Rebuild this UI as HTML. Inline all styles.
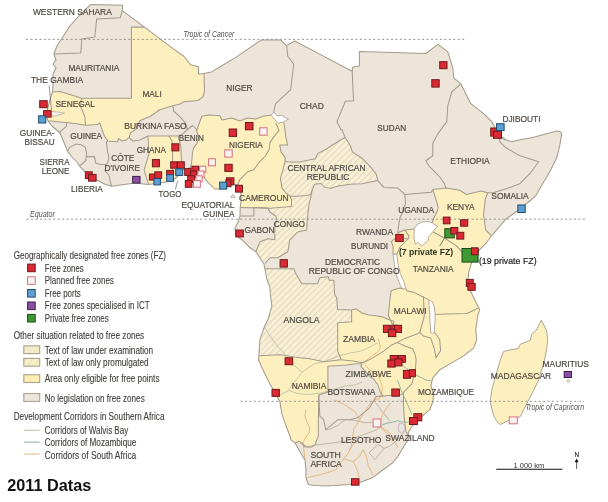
<!DOCTYPE html><html><head><meta charset="utf-8"><title>Free zones in Africa 2011</title><style>html,body{margin:0;padding:0;background:#fff;overflow:hidden}svg{display:block}text{font-family:"Liberation Sans",Arial,sans-serif}</style></head><body>
<svg width="608" height="502" viewBox="0 0 608 502">
<defs>
<clipPath id="land"><polygon points="90.8,4.4 122.7,5.3 122.3,10.7 144.5,27.1 160.3,39.1 173.4,48.9 183.9,56.2 190.5,64.7 198.4,66.7 198.4,73.9 204.0,73.6 211.4,71.9 219.7,67.0 236.1,57.1 249.3,48.1 261.6,39.9 280.5,39.9 286.3,45.6 294.7,41.0 319.6,54.1 352.2,71.2 352.8,66.9 359.4,65.9 359.4,51.5 425.9,53.5 437.9,44.3 447.8,51.9 452.8,67.8 453.8,77.8 460.8,83.8 470.8,103.7 483.7,113.7 492.0,121.9 498.9,134.9 505.9,139.8 511.9,141.8 519.9,139.8 531.8,137.8 545.8,133.9 556.7,130.9 560.7,131.9 561.7,133.9 559.7,145.8 556.7,157.8 549.8,171.7 543.8,181.7 535.8,195.6 531.0,200.0 518.5,210.0 506.0,219.0 500.0,225.8 491.6,235.8 485.6,243.7 477.7,251.7 471.7,255.7 471.8,262.0 468.8,271.9 467.8,281.9 470.8,291.8 475.7,301.8 479.7,309.8 477.7,315.7 475.7,329.7 476.7,340.0 473.7,347.9 463.7,355.9 449.8,363.9 439.8,369.8 432.8,377.8 430.8,385.8 433.8,393.7 432.8,401.7 429.8,409.7 422.6,415.9 411.8,426.6 408.2,432.6 409.7,437.9 405.8,443.2 401.8,449.7 397.9,456.3 392.6,462.9 383.4,469.5 372.9,477.4 359.7,482.6 349.3,484.4 335.0,485.5 324.7,486.0 313.0,485.3 308.2,484.4 306.0,478.0 305.9,469.7 305.0,460.0 300.0,451.8 295.0,442.9 291.0,439.9 289.9,435.7 285.9,425.7 281.9,413.8 279.9,401.8 275.9,393.9 269.9,383.9 264.0,372.0 258.5,360.0 258.9,355.7 259.9,339.8 263.9,327.8 267.9,319.8 271.9,305.9 270.5,296.0 269.9,287.0 266.5,278.0 264.9,268.7 263.9,263.7 260.9,259.8 259.9,257.8 255.9,251.8 250.0,247.8 242.0,239.8 236.0,235.9 235.0,227.9 238.0,222.0 240.0,216.0 240.2,207.0 241.2,200.5 241.0,194.0 239.5,188.0 237.8,184.5 232.0,185.0 226.0,187.0 219.4,189.0 214.7,189.0 206.3,180.6 200.0,170.5 190.0,167.7 182.0,170.0 178.0,176.0 172.0,181.0 160.0,183.0 148.0,184.5 135.0,182.9 111.6,186.2 105.0,184.2 97.1,180.3 89.2,176.3 79.3,165.8 77.8,163.0 72.0,157.0 67.5,151.3 63.0,140.0 59.9,133.0 52.0,126.0 47.9,120.8 45.9,113.9 47.9,107.9 49.9,99.9 52.5,92.0 53.0,84.0 53.0,74.0 56.0,68.0 53.0,64.0 56.0,60.0 53.9,54.0 56.9,46.0 62.8,37.0 69.8,26.0 79.8,15.0"/></clipPath>
<pattern id="hatch" patternUnits="userSpaceOnUse" width="4.4" height="4.4" patternTransform="rotate(-45)"><rect width="4.4" height="4.4" fill="#fcf2d2"/><rect width="4.4" height="1.9" fill="#e8e0cd"/></pattern>
<pattern id="lh1" patternUnits="userSpaceOnUse" width="5" height="5" patternTransform="rotate(-50)"><rect width="5" height="5" fill="#f1e8cf"/><rect width="5" height="2" fill="#f8efbf"/></pattern>
<pattern id="lh2" patternUnits="userSpaceOnUse" width="5" height="5" patternTransform="rotate(-50)"><rect width="5" height="5" fill="#f8f2c6"/><rect width="5" height="2" fill="#ede9bd"/></pattern>
</defs>
<polygon points="90.8,4.4 122.7,5.3 122.3,10.7 144.5,27.1 160.3,39.1 173.4,48.9 183.9,56.2 190.5,64.7 198.4,66.7 198.4,73.9 204.0,73.6 211.4,71.9 219.7,67.0 236.1,57.1 249.3,48.1 261.6,39.9 280.5,39.9 286.3,45.6 294.7,41.0 319.6,54.1 352.2,71.2 352.8,66.9 359.4,65.9 359.4,51.5 425.9,53.5 437.9,44.3 447.8,51.9 452.8,67.8 453.8,77.8 460.8,83.8 470.8,103.7 483.7,113.7 492.0,121.9 498.9,134.9 505.9,139.8 511.9,141.8 519.9,139.8 531.8,137.8 545.8,133.9 556.7,130.9 560.7,131.9 561.7,133.9 559.7,145.8 556.7,157.8 549.8,171.7 543.8,181.7 535.8,195.6 531.0,200.0 518.5,210.0 506.0,219.0 500.0,225.8 491.6,235.8 485.6,243.7 477.7,251.7 471.7,255.7 471.8,262.0 468.8,271.9 467.8,281.9 470.8,291.8 475.7,301.8 479.7,309.8 477.7,315.7 475.7,329.7 476.7,340.0 473.7,347.9 463.7,355.9 449.8,363.9 439.8,369.8 432.8,377.8 430.8,385.8 433.8,393.7 432.8,401.7 429.8,409.7 422.6,415.9 411.8,426.6 408.2,432.6 409.7,437.9 405.8,443.2 401.8,449.7 397.9,456.3 392.6,462.9 383.4,469.5 372.9,477.4 359.7,482.6 349.3,484.4 335.0,485.5 324.7,486.0 313.0,485.3 308.2,484.4 306.0,478.0 305.9,469.7 305.0,460.0 300.0,451.8 295.0,442.9 291.0,439.9 289.9,435.7 285.9,425.7 281.9,413.8 279.9,401.8 275.9,393.9 269.9,383.9 264.0,372.0 258.5,360.0 258.9,355.7 259.9,339.8 263.9,327.8 267.9,319.8 271.9,305.9 270.5,296.0 269.9,287.0 266.5,278.0 264.9,268.7 263.9,263.7 260.9,259.8 259.9,257.8 255.9,251.8 250.0,247.8 242.0,239.8 236.0,235.9 235.0,227.9 238.0,222.0 240.0,216.0 240.2,207.0 241.2,200.5 241.0,194.0 239.5,188.0 237.8,184.5 232.0,185.0 226.0,187.0 219.4,189.0 214.7,189.0 206.3,180.6 200.0,170.5 190.0,167.7 182.0,170.0 178.0,176.0 172.0,181.0 160.0,183.0 148.0,184.5 135.0,182.9 111.6,186.2 105.0,184.2 97.1,180.3 89.2,176.3 79.3,165.8 77.8,163.0 72.0,157.0 67.5,151.3 63.0,140.0 59.9,133.0 52.0,126.0 47.9,120.8 45.9,113.9 47.9,107.9 49.9,99.9 52.5,92.0 53.0,84.0 53.0,74.0 56.0,68.0 53.0,64.0 56.0,60.0 53.9,54.0 56.9,46.0 62.8,37.0 69.8,26.0 79.8,15.0" fill="#ede5d9"/>
<g clip-path="url(#land)">
<polygon points="131.4,27.1 144.5,27.1 150.0,24.0 215.0,62.0 204.0,74.0 204.5,90.0 203.2,96.6 197.9,100.5 183.4,101.8 180.8,103.8 172.9,105.8 159.7,109.7 150.5,116.3 140.0,120.5 135.7,129.4 130.7,132.7 129.1,137.6 125.8,140.1 121.7,140.9 118.4,138.5 117.6,141.7 107.7,140.9 104.4,136.0 101.9,129.4 99.5,122.8 97.8,124.5 85.5,125.3 76.4,123.7 68.2,122.8 60.0,122.0 47.9,120.8 30.0,120.0 30.0,91.0 52.5,91.8 60.0,91.6 76.4,96.5 81.4,98.2 131.4,98.2" fill="#fef0be"/>
<polygon points="147.9,136.0 169.0,136.0 178.2,136.0 180.8,146.4 181.4,161.8 181.0,176.0 181.0,195.0 149.0,195.0 148.9,185.4 145.9,175.9 144.1,169.9 148.9,154.3" fill="#fef0be"/>
<polygon points="196.6,130.8 201.8,116.3 208.4,115.0 220.0,115.7 221.9,119.9 231.8,117.9 239.8,120.9 247.8,117.9 255.7,118.9 263.7,115.9 271.2,115.3 274.5,119.2 278.4,123.2 283.7,122.5 285.0,129.7 285.7,136.3 287.6,144.9 279.7,144.9 281.1,152.1 285.0,157.4 285.1,161.2 282.7,170.7 280.4,178.7 282.0,188.2 285.9,193.0 289.9,196.2 291.5,199.4 291.5,206.6 270.0,208.2 240.0,207.5 230.0,207.0 225.0,195.0 185.0,195.0 190.0,167.7 191.4,164.3 192.0,158.8 192.5,152.3 193.6,147.9 196.9,143.5 198.6,138.6 198.0,134.7" fill="#fef0be"/>
<polygon points="432.7,189.5 440.0,188.7 446.0,188.1 459.7,190.3 466.3,194.4 481.1,191.1 487.7,192.8 485.2,199.3 483.6,215.0 485.6,229.8 491.6,235.8 510.0,245.0 500.0,330.0 490.0,360.0 445.0,380.0 440.0,400.0 435.0,415.0 420.0,425.0 411.8,426.6 408.0,432.0 405.9,431.4 404.7,421.8 404.1,415.9 403.5,403.9 403.5,393.1 398.7,395.5 387.9,395.5 376.0,396.7 383.2,400.0 380.5,392.6 377.9,384.7 374.0,379.5 368.7,375.5 364.7,370.3 360.8,366.3 362.1,363.7 356.8,363.7 346.3,365.0 327.9,366.3 327.9,391.9 318.8,394.9 318.4,420.0 318.3,436.0 316.9,439.9 314.9,444.9 311.9,446.9 304.9,446.9 301.9,442.9 298.9,441.4 295.0,442.9 280.0,445.0 250.0,360.0 259.0,355.7 279.9,354.7 299.8,357.7 309.8,358.7 323.7,361.7 341.0,359.7 339.7,355.8 337.7,351.8 337.7,322.8 351.6,321.8 351.6,309.9 356.2,308.8 361.8,313.0 368.8,315.0 375.7,315.7 382.7,317.1 389.7,319.9 393.9,321.3 393.2,325.5 388.3,315.7 389.7,301.8 391.1,290.7 395.3,289.3 400.0,287.9 402.7,289.0 400.3,285.4 396.7,275.8 394.3,263.9 393.1,254.3 392.0,246.0 391.4,241.9 393.0,236.0 397.9,232.7 404.8,229.9 414.1,228.9 417.5,224.1 422.4,222.0 428.0,221.6 432.2,222.7 434.1,217.4 436.9,211.8 438.3,207.6 435.5,197.9" fill="#fef0be"/>
<polygon points="285.1,161.2 288.9,162.0 299.5,162.0 315.3,158.7 317.9,153.4 325.8,149.5 331.7,145.5 340.0,140.3 345.1,137.5 350.7,146.3 352.3,151.9 361.9,158.2 369.8,166.2 376.2,174.2 377.8,180.6 361.9,183.7 350.0,184.3 338.5,185.9 330.6,188.2 325.0,187.5 321.0,183.5 314.6,184.3 312.2,189.8 310.6,194.6 306.7,195.4 297.1,196.2 289.9,196.2 285.9,193.0 282.0,188.2 280.4,178.7 282.7,170.7" fill="url(#hatch)"/>
<polygon points="291.5,206.6 291.5,199.4 289.9,196.2 297.1,196.2 306.7,195.4 310.6,194.6 312.2,189.8 310.6,197.8 309.0,204.2 308.2,210.6 307.4,218.5 306.7,230.0 297.8,231.9 289.8,239.8 287.8,251.8 277.8,257.8 269.9,257.8 262.0,262.0 250.0,250.0 255.9,251.8 259.9,241.8 267.9,238.8 274.8,239.8 274.8,225.9 276.8,219.9 275.8,216.0 269.9,212.0 267.9,208.0" fill="url(#hatch)"/>
<polygon points="264.9,268.7 293.8,268.7 295.8,273.7 301.8,283.7 317.7,283.7 319.7,277.7 327.7,276.7 328.4,276.7 329.1,280.2 333.9,280.2 334.6,294.8 336.7,297.6 337.4,307.4 337.4,309.5 351.6,309.9 351.6,321.8 337.7,322.8 337.7,351.8 339.7,355.8 341.0,359.7 323.7,361.7 309.8,358.7 299.8,357.7 279.9,354.7 259.0,355.7 240.0,356.0 240.0,268.0" fill="url(#hatch)"/>
<polyline points="330.0,429.2 337.9,425.3 345.8,419.3 356.3,420.7 364.2,422.6 372.1,422.6" fill="none" stroke="#b3aa98" stroke-width="0.8" stroke-linejoin="round"/>
<polyline points="325.6,430.0 330.0,429.2" fill="none" stroke="#b3aa98" stroke-width="0.8" stroke-linejoin="round"/>
<polyline points="300.0,443.3 308.2,446.6 316.4,444.9 329.6,443.3 342.8,441.6" fill="none" stroke="#b3aa98" stroke-width="0.8" stroke-linejoin="round"/>
<polyline points="342.8,441.6 352.0,439.0 360.0,436.0 368.0,433.0 376.0,430.0 382.0,426.0" fill="none" stroke="#b3aa98" stroke-width="0.8" stroke-linejoin="round"/>
<polyline points="384.1,448.4 390.0,446.0 396.0,441.0 401.0,436.0 404.0,432.0" fill="none" stroke="#b3aa98" stroke-width="0.8" stroke-linejoin="round"/>
<polyline points="375.7,402.6 381.0,410.0 386.0,416.0 390.0,421.0" fill="none" stroke="#b3aa98" stroke-width="0.8" stroke-linejoin="round"/>
<polyline points="369.1,452.7 378.2,444.5 384.1,448.4 374.9,459.6 369.1,452.7" fill="none" stroke="#b3aa98" stroke-width="0.8" stroke-linejoin="round"/>
<polyline points="264.0,326.5 270.0,336.0 277.3,346.0 284.0,353.0 288.6,361.1 295.0,366.0 301.8,372.3 299.0,376.5 292.0,384.8 288.6,390.4 280.9,394.6 276.7,393.2" fill="none" stroke="#b8bba2" stroke-width="0.8" stroke-linejoin="round"/>
<polyline points="301.8,372.3 308.0,368.0 314.4,363.9 325.5,361.1 340.0,355.6 350.0,353.0 360.5,351.3 370.0,347.0 377.6,342.8" fill="none" stroke="#b8bba2" stroke-width="0.8" stroke-linejoin="round"/>
<polyline points="288.6,390.4 296.2,393.2 307.4,394.6 319.9,393.2 326.0,391.5 335.0,389.0 345.0,386.0 355.0,385.0 362.0,382.0" fill="none" stroke="#b8bba2" stroke-width="0.8" stroke-linejoin="round"/>
<polyline points="378.4,338.4 380.5,348.1 377.0,352.3 372.9,355.1 365.9,360.7 361.7,363.4" fill="none" stroke="#e3b27a" stroke-width="0.9" stroke-linejoin="round"/>
<polyline points="365.0,365.0 368.7,369.0 374.0,373.0 378.4,376.0 381.0,382.0 382.5,388.0 381.0,395.0 379.5,398.8 373.4,400.3 369.0,405.0 365.5,410.8 362.0,416.0 358.9,421.3 353.7,429.2 352.4,438.4 351.8,443.2 351.1,447.6 347.9,453.7 343.9,458.9 340.0,464.2 336.2,469.6 321.4,474.5 306.6,477.8" fill="none" stroke="#e3b27a" stroke-width="0.9" stroke-linejoin="round"/>
<polyline points="305.9,410.0 304.9,416.0 306.9,422.0 309.9,427.9 308.9,432.9 304.9,438.9 302.9,442.9 303.9,449.8 304.9,460.0" fill="none" stroke="#e3b27a" stroke-width="0.9" stroke-linejoin="round"/>
<polyline points="390.5,402.9 386.0,409.0 382.6,414.7 378.7,425.3 385.3,431.8 391.8,438.4 395.0,443.0 398.4,447.6" fill="none" stroke="#e3b27a" stroke-width="0.9" stroke-linejoin="round"/>
<polyline points="380.0,426.6 386.6,430.5 391.0,434.0" fill="none" stroke="#e3b27a" stroke-width="0.9" stroke-linejoin="round"/>
<polyline points="343.9,458.9 353.2,461.6 357.1,469.5 359.1,477.4" fill="none" stroke="#e3b27a" stroke-width="0.9" stroke-linejoin="round"/>
<polyline points="353.2,461.6 359.7,456.3 363.0,449.7 366.3,456.3 368.3,465.5 372.9,474.7" fill="none" stroke="#e3b27a" stroke-width="0.9" stroke-linejoin="round"/>
<polyline points="349.3,449.9 354.3,443.3" fill="none" stroke="#e3b27a" stroke-width="0.9" stroke-linejoin="round"/>
<polyline points="335.0,400.0 345.0,405.0 355.0,412.0 360.0,420.0" fill="none" stroke="#e3b27a" stroke-width="0.9" stroke-linejoin="round"/>
<polyline points="122.3,10.7 120.3,17.7 96.7,19.0 94.8,37.0 81.8,39.0 80.8,53.0 53.9,54.0" fill="none" stroke="#a39c8c" stroke-width="1.05" stroke-linejoin="round"/>
<polyline points="144.5,27.1 131.4,27.1 131.4,98.2 81.4,98.2 76.4,96.5 60.0,91.6 52.5,92.0" fill="none" stroke="#a39c8c" stroke-width="1.05" stroke-linejoin="round"/>
<polyline points="81.4,98.2 80.6,106.4 84.7,116.3 85.5,125.3" fill="none" stroke="#a39c8c" stroke-width="1.05" stroke-linejoin="round"/>
<polyline points="47.9,120.8 60.0,122.0 68.2,122.8 76.4,123.7 85.5,125.3 97.8,124.5 99.5,122.8" fill="none" stroke="#a39c8c" stroke-width="1.05" stroke-linejoin="round"/>
<polyline points="66.8,123.0 66.2,126.3 60.3,131.6 59.9,133.0" fill="none" stroke="#a39c8c" stroke-width="1.05" stroke-linejoin="round"/>
<polyline points="99.5,122.8 101.9,129.4 104.4,136.0 107.7,140.9 117.6,141.7 118.4,138.5 121.7,140.9 125.8,140.1 129.1,137.6 130.7,132.7 135.7,129.4 140.0,120.5 150.5,116.3 159.7,109.7 172.9,105.8 180.8,103.8 183.4,101.8 197.9,100.5 203.2,96.6 204.5,90.0 204.0,74.0" fill="none" stroke="#a39c8c" stroke-width="1.05" stroke-linejoin="round"/>
<polyline points="107.7,140.9 106.3,142.1 107.6,151.3 108.9,157.9 107.6,163.2 106.3,164.5 105.0,171.0 108.9,175.0 110.3,181.6 111.6,186.2" fill="none" stroke="#a39c8c" stroke-width="1.05" stroke-linejoin="round"/>
<polyline points="86.6,156.6 94.5,156.6 95.8,163.2 101.1,164.5 106.3,164.5" fill="none" stroke="#a39c8c" stroke-width="1.05" stroke-linejoin="round"/>
<polyline points="67.5,151.3 69.5,147.4 76.1,144.1 81.3,144.7 85.3,147.4 86.6,153.9 85.9,160.5 81.3,164.5 79.3,165.8" fill="none" stroke="#a39c8c" stroke-width="1.05" stroke-linejoin="round"/>
<polyline points="129.1,137.6 133.0,141.0 140.0,140.0 147.9,136.0 169.0,136.0 178.2,136.0 179.5,135.4 183.4,133.4 187.4,129.5 185.4,122.9 179.5,116.3 173.6,111.0 172.9,105.8" fill="none" stroke="#a39c8c" stroke-width="1.05" stroke-linejoin="round"/>
<polyline points="147.9,136.0 148.9,154.3 144.1,169.9 145.9,175.9 148.9,185.4" fill="none" stroke="#a39c8c" stroke-width="1.05" stroke-linejoin="round"/>
<polyline points="168.8,136.0 172.0,141.0 172.5,150.0 172.6,162.0 172.5,182.0" fill="none" stroke="#a39c8c" stroke-width="1.05" stroke-linejoin="round"/>
<polyline points="178.2,136.0 180.8,146.4 181.4,161.8 181.0,176.0" fill="none" stroke="#a39c8c" stroke-width="1.05" stroke-linejoin="round"/>
<polyline points="187.4,129.5 192.6,125.5 196.6,129.5 196.6,130.8 198.0,134.7 198.6,138.6 196.9,143.5 193.6,147.9 192.5,152.3 192.0,158.8 191.4,164.3 190.0,167.7" fill="none" stroke="#a39c8c" stroke-width="1.05" stroke-linejoin="round"/>
<polyline points="196.6,130.8 201.8,116.3 208.4,115.0 220.0,115.7 221.9,119.9 231.8,117.9 239.8,120.9 247.8,117.9 255.7,118.9 263.7,115.9 271.2,115.3" fill="none" stroke="#a39c8c" stroke-width="1.05" stroke-linejoin="round"/>
<polyline points="286.7,46.0 287.7,56.0 293.7,64.0 290.7,89.7 275.7,103.7 273.7,111.6 273.8,112.0" fill="none" stroke="#a39c8c" stroke-width="1.05" stroke-linejoin="round"/>
<polyline points="275.8,123.2 279.1,130.4 273.2,137.6 269.9,142.9 269.2,149.5 265.3,156.0 260.0,161.3 253.7,169.7 247.8,171.7 239.8,179.7 237.8,184.5" fill="none" stroke="#a39c8c" stroke-width="1.05" stroke-linejoin="round"/>
<polyline points="283.7,122.5 285.0,129.7 285.7,136.3 287.6,144.9 279.7,144.9 281.1,152.1 285.0,157.4 285.1,161.2 282.7,170.7 280.4,178.7 282.0,188.2 285.9,193.0 289.9,196.2 291.5,199.4 291.5,206.6" fill="none" stroke="#a39c8c" stroke-width="1.05" stroke-linejoin="round"/>
<polyline points="291.5,206.6 270.0,208.2 240.0,207.5" fill="none" stroke="#a39c8c" stroke-width="1.05" stroke-linejoin="round"/>
<polyline points="285.1,161.2 288.9,162.0 299.5,162.0 315.3,158.7 317.9,153.4 325.8,149.5 331.7,145.5 340.0,140.3 345.1,137.5" fill="none" stroke="#a39c8c" stroke-width="1.05" stroke-linejoin="round"/>
<polyline points="352.2,71.2 353.5,100.8 345.3,101.2 341.9,109.7 336.9,121.6 340.9,129.6 342.0,129.6 345.1,137.5" fill="none" stroke="#a39c8c" stroke-width="1.05" stroke-linejoin="round"/>
<polyline points="345.1,137.5 350.7,146.3 352.3,151.9 361.9,158.2 369.8,166.2 376.2,174.2 377.8,180.6" fill="none" stroke="#a39c8c" stroke-width="1.05" stroke-linejoin="round"/>
<polyline points="289.9,196.2 297.1,196.2 306.7,195.4 310.6,194.6 312.2,189.8 314.6,184.3 321.0,183.5 325.0,187.5 330.6,188.2 338.5,185.9 350.0,184.3 361.9,183.7 377.8,180.6" fill="none" stroke="#a39c8c" stroke-width="1.05" stroke-linejoin="round"/>
<polyline points="377.8,180.6 383.9,187.4 397.9,188.1 404.8,194.4 431.3,192.3 432.7,189.5" fill="none" stroke="#a39c8c" stroke-width="1.05" stroke-linejoin="round"/>
<polyline points="460.8,83.8 451.8,91.8 447.8,105.7 446.8,121.6 437.8,133.9 432.8,142.9 432.8,155.8 425.8,160.8 428.8,165.8 434.8,171.8 439.7,177.0 443.9,182.5 446.0,188.1" fill="none" stroke="#a39c8c" stroke-width="1.05" stroke-linejoin="round"/>
<polyline points="498.9,134.9 499.9,141.8 505.9,147.8 519.9,155.8 538.8,161.8 529.8,173.7 519.9,183.7 509.9,187.6 494.0,192.6 487.7,192.8" fill="none" stroke="#a39c8c" stroke-width="1.05" stroke-linejoin="round"/>
<polyline points="432.7,189.5 440.0,188.7 446.0,188.1 459.7,190.3 466.3,194.4 481.1,191.1 487.7,192.8 485.2,199.3 483.6,215.0 485.6,229.8 491.6,235.8" fill="none" stroke="#a39c8c" stroke-width="1.05" stroke-linejoin="round"/>
<polyline points="404.8,194.4 405.5,203.4 402.8,211.8 400.0,217.4 398.6,225.7 397.9,232.7" fill="none" stroke="#a39c8c" stroke-width="1.05" stroke-linejoin="round"/>
<polyline points="432.7,189.5 435.5,197.9 438.3,207.6 436.9,211.8 434.1,217.4 432.2,222.7" fill="none" stroke="#a39c8c" stroke-width="1.05" stroke-linejoin="round"/>
<polyline points="397.9,232.7 404.8,229.9 414.1,228.9" fill="none" stroke="#a39c8c" stroke-width="1.05" stroke-linejoin="round"/>
<polyline points="432.9,231.7 445.0,238.5 456.5,245.9 461.7,251.7 471.7,255.7" fill="none" stroke="#a39c8c" stroke-width="1.05" stroke-linejoin="round"/>
<polyline points="397.9,232.7 398.0,237.0 408.0,239.0 409.0,236.0 404.8,229.9" fill="none" stroke="#a39c8c" stroke-width="1.05" stroke-linejoin="round"/>
<polyline points="398.0,237.0 393.0,240.0 391.4,241.9 393.0,246.0 393.1,254.3 396.7,254.3 400.0,247.0 402.9,244.0 408.0,239.0" fill="none" stroke="#a39c8c" stroke-width="1.05" stroke-linejoin="round"/>
<polyline points="240.0,216.0 253.9,216.0 253.9,207.5" fill="none" stroke="#a39c8c" stroke-width="1.05" stroke-linejoin="round"/>
<polyline points="253.9,207.5 267.9,208.0 269.9,212.0 275.8,216.0 276.8,219.9 274.8,225.9 274.8,239.8 267.9,238.8 259.9,241.8 255.9,251.8" fill="none" stroke="#a39c8c" stroke-width="1.05" stroke-linejoin="round"/>
<polyline points="312.2,189.8 310.6,197.8 309.0,204.2 308.2,210.6 307.4,218.5 306.7,230.0 297.8,231.9 289.8,239.8 287.8,251.8 277.8,257.8 269.9,257.8 265.0,263.5" fill="none" stroke="#a39c8c" stroke-width="1.05" stroke-linejoin="round"/>
<polyline points="264.9,268.7 293.8,268.7 295.8,273.7 301.8,283.7 317.7,283.7 319.7,277.7 327.7,276.7 328.4,276.7 329.1,280.2 333.9,280.2 334.6,294.8 336.7,297.6 337.4,307.4 337.4,309.5 351.6,309.9" fill="none" stroke="#a39c8c" stroke-width="1.05" stroke-linejoin="round"/>
<polyline points="351.6,309.9 351.6,321.8 337.7,322.8 337.7,351.8 339.7,355.8 341.0,359.7 323.7,361.7 309.8,358.7 299.8,357.7 279.9,354.7 258.9,355.7" fill="none" stroke="#a39c8c" stroke-width="1.05" stroke-linejoin="round"/>
<polyline points="351.6,309.9 356.2,308.8 361.8,313.0 368.8,315.0 375.7,315.7 382.7,317.1 389.7,319.9 393.9,321.3 393.2,325.5 388.3,315.7 389.7,301.8 391.1,290.7 395.3,289.3 400.0,287.9 402.7,289.0" fill="none" stroke="#a39c8c" stroke-width="1.05" stroke-linejoin="round"/>
<polyline points="405.7,288.4 407.1,290.9 414.6,292.6 421.6,296.3 428.9,299.9" fill="none" stroke="#a39c8c" stroke-width="1.05" stroke-linejoin="round"/>
<polyline points="435.2,314.4 445.0,314.0 466.8,313.5 478.6,308.0" fill="none" stroke="#a39c8c" stroke-width="1.05" stroke-linejoin="round"/>
<polyline points="423.4,296.3 424.3,316.2 419.8,332.5 418.0,333.4 405.0,338.4 397.2,342.4" fill="none" stroke="#a39c8c" stroke-width="1.05" stroke-linejoin="round"/>
<polyline points="419.8,332.5 423.4,336.1 430.7,337.9 434.3,348.8 436.1,357.8 440.6,350.6 439.7,339.7 436.1,334.3 434.3,332.5" fill="none" stroke="#a39c8c" stroke-width="1.05" stroke-linejoin="round"/>
<polyline points="341.0,359.7 352.9,361.0 363.1,362.8 372.9,357.9 384.0,350.9 391.0,345.3 397.2,342.4" fill="none" stroke="#a39c8c" stroke-width="1.05" stroke-linejoin="round"/>
<polyline points="397.2,342.4 405.0,346.0 412.6,348.8 415.0,354.0 416.2,359.6 415.3,370.0 413.9,375.8 411.9,383.8 403.9,391.8 403.5,393.1" fill="none" stroke="#a39c8c" stroke-width="1.05" stroke-linejoin="round"/>
<polyline points="327.9,366.3 346.3,365.0 356.8,363.7 362.1,363.7" fill="none" stroke="#a39c8c" stroke-width="1.05" stroke-linejoin="round"/>
<polyline points="362.1,363.7 360.8,366.3 364.7,370.3 368.7,375.5 374.0,379.5 377.9,384.7 380.5,392.6 383.2,396.0" fill="none" stroke="#a39c8c" stroke-width="1.05" stroke-linejoin="round"/>
<polyline points="376.0,396.7 387.9,395.5 398.7,395.5 403.5,393.1" fill="none" stroke="#a39c8c" stroke-width="1.05" stroke-linejoin="round"/>
<polyline points="403.5,393.1 403.5,403.9 404.1,415.9 404.7,421.8 405.9,431.4 409.7,437.9" fill="none" stroke="#a39c8c" stroke-width="1.05" stroke-linejoin="round"/>
<polyline points="327.9,366.3 327.9,391.9 318.8,394.9 318.4,420.0 318.3,436.0 316.9,439.9 314.9,444.9 311.9,446.9 304.9,446.9 301.9,442.9 298.9,441.4 295.0,442.9" fill="none" stroke="#a39c8c" stroke-width="1.05" stroke-linejoin="round"/>
<polyline points="318.8,394.9 319.8,415.8 323.7,419.8 325.7,429.7 337.7,419.8 349.7,419.8 357.6,417.8 369.6,407.8 376.0,396.7 383.2,396.0" fill="none" stroke="#a39c8c" stroke-width="1.05" stroke-linejoin="round"/>
<polyline points="382.0,424.8 388.0,423.0 393.9,421.8 397.5,420.7 401.7,422.1 409.4,422.1" fill="none" stroke="#86b3a0" stroke-width="0.9" stroke-linejoin="round"/>
<polyline points="397.5,380.0 400.0,387.0 402.3,393.1 406.0,401.0 409.4,408.7 411.8,414.7" fill="none" stroke="#86b3a0" stroke-width="0.9" stroke-linejoin="round"/>
<polyline points="399.4,363.4 403.5,366.2 410.0,371.0 418.0,376.0 426.0,380.0 432.5,381.0" fill="none" stroke="#86b3a0" stroke-width="0.9" stroke-linejoin="round"/>
<polyline points="498.5,134.0 502.0,138.5 506.0,140.0" fill="none" stroke="#86b3a0" stroke-width="0.9" stroke-linejoin="round"/>
<polygon points="398.9,423.8 402.3,423.6 404.6,425.5 404.8,431 401.1,432.6 398.9,431.5 398.2,428" fill="#ece6e2" stroke="#c6aac6" stroke-width="0.8"/>
<polygon points="51,111.4 58,112 64.5,113.2 58,115.3 52,116.6" fill="#f6f1ea" stroke="#a39c8c" stroke-width="0.6"/>
</g>
<polygon points="90.8,4.4 122.7,5.3 122.3,10.7 144.5,27.1 160.3,39.1 173.4,48.9 183.9,56.2 190.5,64.7 198.4,66.7 198.4,73.9 204.0,73.6 211.4,71.9 219.7,67.0 236.1,57.1 249.3,48.1 261.6,39.9 280.5,39.9 286.3,45.6 294.7,41.0 319.6,54.1 352.2,71.2 352.8,66.9 359.4,65.9 359.4,51.5 425.9,53.5 437.9,44.3 447.8,51.9 452.8,67.8 453.8,77.8 460.8,83.8 470.8,103.7 483.7,113.7 492.0,121.9 498.9,134.9 505.9,139.8 511.9,141.8 519.9,139.8 531.8,137.8 545.8,133.9 556.7,130.9 560.7,131.9 561.7,133.9 559.7,145.8 556.7,157.8 549.8,171.7 543.8,181.7 535.8,195.6 531.0,200.0 518.5,210.0 506.0,219.0 500.0,225.8 491.6,235.8 485.6,243.7 477.7,251.7 471.7,255.7 471.8,262.0 468.8,271.9 467.8,281.9 470.8,291.8 475.7,301.8 479.7,309.8 477.7,315.7 475.7,329.7 476.7,340.0 473.7,347.9 463.7,355.9 449.8,363.9 439.8,369.8 432.8,377.8 430.8,385.8 433.8,393.7 432.8,401.7 429.8,409.7 422.6,415.9 411.8,426.6 408.2,432.6 409.7,437.9 405.8,443.2 401.8,449.7 397.9,456.3 392.6,462.9 383.4,469.5 372.9,477.4 359.7,482.6 349.3,484.4 335.0,485.5 324.7,486.0 313.0,485.3 308.2,484.4 306.0,478.0 305.9,469.7 305.0,460.0 300.0,451.8 295.0,442.9 291.0,439.9 289.9,435.7 285.9,425.7 281.9,413.8 279.9,401.8 275.9,393.9 269.9,383.9 264.0,372.0 258.5,360.0 258.9,355.7 259.9,339.8 263.9,327.8 267.9,319.8 271.9,305.9 270.5,296.0 269.9,287.0 266.5,278.0 264.9,268.7 263.9,263.7 260.9,259.8 259.9,257.8 255.9,251.8 250.0,247.8 242.0,239.8 236.0,235.9 235.0,227.9 238.0,222.0 240.0,216.0 240.2,207.0 241.2,200.5 241.0,194.0 239.5,188.0 237.8,184.5 232.0,185.0 226.0,187.0 219.4,189.0 214.7,189.0 206.3,180.6 200.0,170.5 190.0,167.7 182.0,170.0 178.0,176.0 172.0,181.0 160.0,183.0 148.0,184.5 135.0,182.9 111.6,186.2 105.0,184.2 97.1,180.3 89.2,176.3 79.3,165.8 77.8,163.0 72.0,157.0 67.5,151.3 63.0,140.0 59.9,133.0 52.0,126.0 47.9,120.8 45.9,113.9 47.9,107.9 49.9,99.9 52.5,92.0 53.0,84.0 53.0,74.0 56.0,68.0 53.0,64.0 56.0,60.0 53.9,54.0 56.9,46.0 62.8,37.0 69.8,26.0 79.8,15.0" fill="none" stroke="#a39c8c" stroke-width="1.05" stroke-linejoin="round"/>
<polygon points="271.2,115.3 273.8,112.0 277.1,115.9 281.7,115.3 288.3,119.2 283.7,121.8 278.4,123.2 274.5,119.2" fill="#fff" stroke="#a39c8c" stroke-width="0.8"/>
<polygon points="414.1,228.9 417.5,224.1 422.4,222.0 428.0,221.6 432.2,222.7 435.0,224.8 437.4,226.1 432.9,231.7 430.1,235.2 428.0,237.3 428.7,240.1 425.2,242.9 422.4,245.7 419.6,244.3 417.5,242.2 415.5,244.3 414.1,239.4" fill="#fff" stroke="#a39c8c" stroke-width="0.8"/>
<polygon points="393.1,254.3 396.7,254.3 397.9,263.9 400.3,273.5 403.9,281.8 405.7,288.4 402.7,289.0 400.3,285.4 396.7,275.8 394.3,263.9" fill="#fff" stroke="#a39c8c" stroke-width="0.8"/>
<polygon points="428.9,299.9 432.5,301.7 434.5,308.0 435.2,316.2 434.8,324.0 434.3,332.5 432.5,333.4 430.7,332.5 430.2,324.0 429.8,316.2 429.2,308.0" fill="#fff" stroke="#a39c8c" stroke-width="0.8"/>
<polygon points="541.2,320.1 546.5,330.2 547.7,340.2 546.5,350.0 544.5,360.3 541.5,370.0 538.4,380.4 533.5,390.5 528.4,400.5 524.0,409.0 520.3,416.6 514.0,418.6 508.3,420.6 500.2,424.6 496.5,421.0 494.2,416.6 491.5,408.0 490.2,400.5 492.2,388.5 496.2,374.4 500.2,360.3 503.4,351.5 510.0,350.0 518.3,348.3 520.3,344.2 530.4,340.2 531.6,334.2 536.4,330.2" fill="#fef0be" stroke="#a39c8c" stroke-width="0.9"/>
<polygon points="230.5,197.3 232.8,194.3 235.2,197.3" fill="#ede5d9" stroke="#a39c8c" stroke-width="0.7"/>
<circle cx="568.3" cy="381" r="1.3" fill="#fef0be" stroke="#a39c8c" stroke-width="0.6"/>
<line x1="49.1" y1="85.5" x2="51.5" y2="110" stroke="#6e6a66" stroke-width="0.7"/>
<line x1="177.6" y1="181" x2="175.4" y2="189.6" stroke="#6e6a66" stroke-width="0.7"/>
<line x1="444" y1="238.7" x2="439.8" y2="246" stroke="#556b4d" stroke-width="0.8"/>
<line x1="26" y1="39.4" x2="466" y2="39.4" stroke="#8c8c8c" stroke-width="0.9" stroke-dasharray="2.1 2.35" fill="none"/>
<line x1="26.5" y1="219.2" x2="587" y2="219.2" stroke="#8c8c8c" stroke-width="0.9" stroke-dasharray="2.1 2.35" fill="none"/>
<line x1="240.5" y1="401.3" x2="584" y2="401.3" stroke="#8c8c8c" stroke-width="0.9" stroke-dasharray="2.1 2.35" fill="none"/>
<rect x="39.7" y="100.7" width="7.5" height="7.0" fill="#dc2a35" stroke="#6e1a1c" stroke-width="1"/>
<rect x="43.6" y="110.6" width="7.5" height="6.5" fill="#dc2a35" stroke="#6e1a1c" stroke-width="1"/>
<rect x="38.6" y="115.8" width="7.2" height="7.2" fill="#5e9fd2" stroke="#1f4d6e" stroke-width="1"/>
<rect x="85.4" y="171.8" width="6.8" height="6.8" fill="#dc2a35" stroke="#6e1a1c" stroke-width="1"/>
<rect x="88.5" y="174.4" width="7.6" height="6.8" fill="#dc2a35" stroke="#6e1a1c" stroke-width="1"/>
<rect x="132.7" y="176.4" width="7.3" height="6.7" fill="#8c4fa5" stroke="#3d1d4a" stroke-width="1"/>
<rect x="152.4" y="159.6" width="7.0" height="7.2" fill="#dc2a35" stroke="#6e1a1c" stroke-width="1"/>
<rect x="149.4" y="174.0" width="6.4" height="6.1" fill="#dc2a35" stroke="#6e1a1c" stroke-width="1"/>
<rect x="154.8" y="171.8" width="6.8" height="6.5" fill="#dc2a35" stroke="#6e1a1c" stroke-width="1"/>
<rect x="153.9" y="178.5" width="6.5" height="6.4" fill="#5e9fd2" stroke="#1f4d6e" stroke-width="1"/>
<rect x="171.9" y="143.8" width="7.0" height="7.1" fill="#dc2a35" stroke="#6e1a1c" stroke-width="1"/>
<rect x="166.7" y="170.4" width="6.8" height="5.0" fill="#dc2a35" stroke="#6e1a1c" stroke-width="1"/>
<rect x="166.7" y="174.6" width="6.8" height="6.7" fill="#5e9fd2" stroke="#1f4d6e" stroke-width="1"/>
<rect x="170.7" y="161.8" width="6.4" height="6.4" fill="#dc2a35" stroke="#6e1a1c" stroke-width="1"/>
<rect x="177.5" y="161.8" width="6.8" height="6.4" fill="#dc2a35" stroke="#6e1a1c" stroke-width="1"/>
<rect x="175.7" y="168.8" width="7.1" height="6.6" fill="#5e9fd2" stroke="#1f4d6e" stroke-width="1"/>
<rect x="184.7" y="168.6" width="6.2" height="6.8" fill="#dc2a35" stroke="#6e1a1c" stroke-width="1"/>
<rect x="191.9" y="166.2" width="6.7" height="6.8" fill="#dc2a35" stroke="#6e1a1c" stroke-width="1"/>
<rect x="190.7" y="171.0" width="6.1" height="6.7" fill="#dc2a35" stroke="#6e1a1c" stroke-width="1"/>
<rect x="199.6" y="166.2" width="6.2" height="6.2" fill="#fbf3f2" stroke="#d9707c" stroke-width="1"/>
<rect x="197.8" y="171.0" width="6.2" height="6.1" fill="#fbf3f2" stroke="#d9707c" stroke-width="1"/>
<rect x="187.7" y="175.8" width="6.7" height="6.7" fill="#dc2a35" stroke="#6e1a1c" stroke-width="1"/>
<rect x="196.0" y="175.8" width="6.2" height="6.1" fill="#fbf3f2" stroke="#d9707c" stroke-width="1"/>
<rect x="185.3" y="180.5" width="6.7" height="6.8" fill="#dc2a35" stroke="#6e1a1c" stroke-width="1"/>
<rect x="193.6" y="180.5" width="6.8" height="6.8" fill="#fbf3f2" stroke="#d9707c" stroke-width="1"/>
<rect x="229.2" y="129.0" width="7.4" height="7.4" fill="#dc2a35" stroke="#6e1a1c" stroke-width="1"/>
<rect x="245.4" y="122.5" width="7.6" height="7.3" fill="#dc2a35" stroke="#6e1a1c" stroke-width="1"/>
<rect x="259.7" y="127.8" width="7.4" height="7.4" fill="#fbf3f2" stroke="#d9707c" stroke-width="1"/>
<rect x="224.8" y="149.9" width="7.4" height="7.2" fill="#fbf3f2" stroke="#d9707c" stroke-width="1"/>
<rect x="224.8" y="164.3" width="7.4" height="7.1" fill="#dc2a35" stroke="#6e1a1c" stroke-width="1"/>
<rect x="208.6" y="158.7" width="6.8" height="7.1" fill="#fbf3f2" stroke="#d9707c" stroke-width="1"/>
<rect x="226.5" y="177.8" width="7.4" height="6.9" fill="#dc2a35" stroke="#6e1a1c" stroke-width="1"/>
<rect x="225.9" y="179.9" width="5.0" height="6.8" fill="#dc2a35" stroke="#6e1a1c" stroke-width="1"/>
<rect x="219.7" y="182.1" width="7.0" height="7.0" fill="#5e9fd2" stroke="#1f4d6e" stroke-width="1"/>
<rect x="235.5" y="185.3" width="7.0" height="6.8" fill="#dc2a35" stroke="#6e1a1c" stroke-width="1"/>
<rect x="235.8" y="230.0" width="7.5" height="6.9" fill="#dc2a35" stroke="#6e1a1c" stroke-width="1"/>
<rect x="280.1" y="259.7" width="7.3" height="7.4" fill="#dc2a35" stroke="#6e1a1c" stroke-width="1"/>
<rect x="439.7" y="61.7" width="7.3" height="7.0" fill="#dc2a35" stroke="#6e1a1c" stroke-width="1"/>
<rect x="431.8" y="79.7" width="7.4" height="7.4" fill="#dc2a35" stroke="#6e1a1c" stroke-width="1"/>
<rect x="490.7" y="128.0" width="7.6" height="8.1" fill="#dc2a35" stroke="#6e1a1c" stroke-width="1"/>
<rect x="493.5" y="131.2" width="8.0" height="7.1" fill="#dc2a35" stroke="#6e1a1c" stroke-width="1"/>
<rect x="496.5" y="123.7" width="7.6" height="6.9" fill="#5e9fd2" stroke="#1f4d6e" stroke-width="1"/>
<rect x="517.8" y="205.0" width="7.4" height="7.5" fill="#5e9fd2" stroke="#1f4d6e" stroke-width="1"/>
<rect x="443.3" y="217.1" width="6.7" height="6.7" fill="#dc2a35" stroke="#6e1a1c" stroke-width="1"/>
<rect x="460.6" y="219.8" width="7.1" height="6.4" fill="#dc2a35" stroke="#6e1a1c" stroke-width="1"/>
<rect x="444.8" y="228.7" width="9.4" height="9.2" fill="#3c9a32" stroke="#1d4a18" stroke-width="1"/>
<rect x="450.8" y="227.5" width="7.0" height="6.5" fill="#dc2a35" stroke="#6e1a1c" stroke-width="1"/>
<rect x="456.8" y="232.3" width="7.0" height="6.8" fill="#dc2a35" stroke="#6e1a1c" stroke-width="1"/>
<rect x="462.0" y="248.5" width="16.1" height="13.6" fill="#3c9a32" stroke="#1d4a18" stroke-width="1"/>
<rect x="471.4" y="247.8" width="6.7" height="6.9" fill="#dc2a35" stroke="#6e1a1c" stroke-width="1"/>
<rect x="466.3" y="279.4" width="6.9" height="7.0" fill="#dc2a35" stroke="#6e1a1c" stroke-width="1"/>
<rect x="467.9" y="283.4" width="7.3" height="6.9" fill="#dc2a35" stroke="#6e1a1c" stroke-width="1"/>
<rect x="395.7" y="234.4" width="7.5" height="7.1" fill="#dc2a35" stroke="#6e1a1c" stroke-width="1"/>
<rect x="383.4" y="325.3" width="6.7" height="7.1" fill="#dc2a35" stroke="#6e1a1c" stroke-width="1"/>
<rect x="390.8" y="325.3" width="6.2" height="3.5" fill="#dc2a35" stroke="#6e1a1c" stroke-width="1"/>
<rect x="394.4" y="325.3" width="7.1" height="7.1" fill="#dc2a35" stroke="#6e1a1c" stroke-width="1"/>
<rect x="388.4" y="329.6" width="7.4" height="7.0" fill="#dc2a35" stroke="#6e1a1c" stroke-width="1"/>
<rect x="390.2" y="355.5" width="7.4" height="6.8" fill="#dc2a35" stroke="#6e1a1c" stroke-width="1"/>
<rect x="398.6" y="355.5" width="6.8" height="6.8" fill="#dc2a35" stroke="#6e1a1c" stroke-width="1"/>
<rect x="387.8" y="360.0" width="7.4" height="7.1" fill="#dc2a35" stroke="#6e1a1c" stroke-width="1"/>
<rect x="395.0" y="358.8" width="7.0" height="7.1" fill="#dc2a35" stroke="#6e1a1c" stroke-width="1"/>
<rect x="403.4" y="370.4" width="7.0" height="7.9" fill="#dc2a35" stroke="#6e1a1c" stroke-width="1"/>
<rect x="409.4" y="369.7" width="6.0" height="7.0" fill="#dc2a35" stroke="#6e1a1c" stroke-width="1"/>
<rect x="391.8" y="389.0" width="7.6" height="7.2" fill="#dc2a35" stroke="#6e1a1c" stroke-width="1"/>
<rect x="413.9" y="413.7" width="7.9" height="7.2" fill="#dc2a35" stroke="#6e1a1c" stroke-width="1"/>
<rect x="409.5" y="417.5" width="7.9" height="7.0" fill="#dc2a35" stroke="#6e1a1c" stroke-width="1"/>
<rect x="285.1" y="357.8" width="7.6" height="6.9" fill="#dc2a35" stroke="#6e1a1c" stroke-width="1"/>
<rect x="272.0" y="389.4" width="7.4" height="7.0" fill="#dc2a35" stroke="#6e1a1c" stroke-width="1"/>
<rect x="351.5" y="478.7" width="7.5" height="6.5" fill="#dc2a35" stroke="#6e1a1c" stroke-width="1"/>
<rect x="373.1" y="419.0" width="7.8" height="7.9" fill="#fbf3f2" stroke="#d9707c" stroke-width="1"/>
<rect x="509.2" y="416.9" width="8.1" height="6.9" fill="#fbf3f2" stroke="#d9707c" stroke-width="1"/>
<rect x="564.2" y="371.5" width="7.3" height="6.0" fill="#8c4fa5" stroke="#3d1d4a" stroke-width="1"/>
<text x="32.9" y="15.4" font-size="9.6" fill="#4f4943" stroke="#4f4943" stroke-width="0.2" textLength="78.9" lengthAdjust="spacingAndGlyphs">WESTERN SAHARA</text>
<text x="68.4" y="71.4" font-size="9.6" fill="#4f4943" stroke="#4f4943" stroke-width="0.2" textLength="50.9" lengthAdjust="spacingAndGlyphs">MAURITANIA</text>
<text x="30.9" y="83.3" font-size="9.6" fill="#4f4943" stroke="#4f4943" stroke-width="0.2" textLength="52.3" lengthAdjust="spacingAndGlyphs">THE GAMBIA</text>
<text x="55.5" y="106.7" font-size="9.6" fill="#4f4943" stroke="#4f4943" stroke-width="0.2" textLength="39.5" lengthAdjust="spacingAndGlyphs">SENEGAL</text>
<text x="142.5" y="97.1" font-size="9.6" fill="#4f4943" stroke="#4f4943" stroke-width="0.2" textLength="19.2" lengthAdjust="spacingAndGlyphs">MALI</text>
<text x="226.3" y="90.9" font-size="9.6" fill="#4f4943" stroke="#4f4943" stroke-width="0.2" textLength="26.3" lengthAdjust="spacingAndGlyphs">NIGER</text>
<text x="299.7" y="109.1" font-size="9.6" fill="#4f4943" stroke="#4f4943" stroke-width="0.2" textLength="24.1" lengthAdjust="spacingAndGlyphs">CHAD</text>
<text x="377.3" y="131.1" font-size="9.6" fill="#4f4943" stroke="#4f4943" stroke-width="0.2" textLength="28.8" lengthAdjust="spacingAndGlyphs">SUDAN</text>
<text x="502.4" y="121.7" font-size="9.6" fill="#4f4943" stroke="#4f4943" stroke-width="0.2" textLength="38.1" lengthAdjust="spacingAndGlyphs">DJIBOUTI</text>
<text x="450.3" y="164.4" font-size="9.6" fill="#4f4943" stroke="#4f4943" stroke-width="0.2" textLength="39.3" lengthAdjust="spacingAndGlyphs">ETHIOPIA</text>
<text x="491.3" y="199.1" font-size="9.6" fill="#4f4943" stroke="#4f4943" stroke-width="0.2" textLength="37.4" lengthAdjust="spacingAndGlyphs">SOMALIA</text>
<text x="19.7" y="135.6" font-size="9.6" fill="#4f4943" stroke="#4f4943" stroke-width="0.2" textLength="34.9" lengthAdjust="spacingAndGlyphs">GUINEA-</text>
<text x="24.6" y="144.6" font-size="9.6" fill="#4f4943" stroke="#4f4943" stroke-width="0.2" textLength="30.0" lengthAdjust="spacingAndGlyphs">BISSAU</text>
<text x="70.2" y="139.2" font-size="9.6" fill="#4f4943" stroke="#4f4943" stroke-width="0.2" textLength="32.0" lengthAdjust="spacingAndGlyphs">GUINEA</text>
<text x="39.6" y="164.5" font-size="9.6" fill="#4f4943" stroke="#4f4943" stroke-width="0.2" textLength="29.9" lengthAdjust="spacingAndGlyphs">SIERRA</text>
<text x="41.7" y="173.9" font-size="9.6" fill="#4f4943" stroke="#4f4943" stroke-width="0.2" textLength="27.8" lengthAdjust="spacingAndGlyphs">LEONE</text>
<text x="71.0" y="192.3" font-size="9.6" fill="#4f4943" stroke="#4f4943" stroke-width="0.2" textLength="31.7" lengthAdjust="spacingAndGlyphs">LIBERIA</text>
<text x="111.2" y="161.4" font-size="9.6" fill="#4f4943" stroke="#4f4943" stroke-width="0.2" textLength="23.1" lengthAdjust="spacingAndGlyphs">CÔTE</text>
<text x="104.4" y="170.9" font-size="9.6" fill="#4f4943" stroke="#4f4943" stroke-width="0.2" textLength="35.7" lengthAdjust="spacingAndGlyphs">D&#39;IVOIRE</text>
<text x="124.3" y="128.7" font-size="9.6" fill="#4f4943" stroke="#4f4943" stroke-width="0.2" textLength="62.4" lengthAdjust="spacingAndGlyphs">BURKINA FASO</text>
<text x="178.8" y="140.9" font-size="9.6" fill="#4f4943" stroke="#4f4943" stroke-width="0.2" textLength="25.0" lengthAdjust="spacingAndGlyphs">BENIN</text>
<text x="136.7" y="153.1" font-size="9.6" fill="#4f4943" stroke="#4f4943" stroke-width="0.2" textLength="29.3" lengthAdjust="spacingAndGlyphs">GHANA</text>
<text x="229.1" y="147.6" font-size="9.6" fill="#4f4943" stroke="#4f4943" stroke-width="0.2" textLength="33.7" lengthAdjust="spacingAndGlyphs">NIGERIA</text>
<text x="158.5" y="196.8" font-size="9.6" fill="#4f4943" stroke="#4f4943" stroke-width="0.2" textLength="22.7" lengthAdjust="spacingAndGlyphs">TOGO</text>
<text x="181.4" y="208.1" font-size="9.6" fill="#4f4943" stroke="#4f4943" stroke-width="0.2" textLength="53.0" lengthAdjust="spacingAndGlyphs">EQUATORIAL</text>
<text x="202.8" y="217.1" font-size="9.6" fill="#4f4943" stroke="#4f4943" stroke-width="0.2" textLength="31.6" lengthAdjust="spacingAndGlyphs">GUINEA</text>
<text x="239.1" y="200.6" font-size="9.6" fill="#4f4943" stroke="#4f4943" stroke-width="0.2" textLength="49.6" lengthAdjust="spacingAndGlyphs">CAMEROUN</text>
<text x="287.5" y="170.9" font-size="9.6" fill="#4f4943" stroke="#4f4943" stroke-width="0.2" textLength="78.0" lengthAdjust="spacingAndGlyphs">CENTRAL AFRICAN</text>
<text x="306.7" y="179.7" font-size="9.6" fill="#4f4943" stroke="#4f4943" stroke-width="0.2" textLength="42.8" lengthAdjust="spacingAndGlyphs">REPUBLIC</text>
<text x="244.5" y="233.1" font-size="9.6" fill="#4f4943" stroke="#4f4943" stroke-width="0.2" textLength="29.9" lengthAdjust="spacingAndGlyphs">GABON</text>
<text x="273.8" y="227.3" font-size="9.6" fill="#4f4943" stroke="#4f4943" stroke-width="0.2" textLength="31.2" lengthAdjust="spacingAndGlyphs">CONGO</text>
<text x="398.2" y="212.5" font-size="9.6" fill="#4f4943" stroke="#4f4943" stroke-width="0.2" textLength="35.9" lengthAdjust="spacingAndGlyphs">UGANDA</text>
<text x="446.9" y="210.4" font-size="9.6" fill="#4f4943" stroke="#4f4943" stroke-width="0.2" textLength="27.8" lengthAdjust="spacingAndGlyphs">KENYA</text>
<text x="356.0" y="234.6" font-size="9.6" fill="#4f4943" stroke="#4f4943" stroke-width="0.2" textLength="37.0" lengthAdjust="spacingAndGlyphs">RWANDA</text>
<text x="351.1" y="248.5" font-size="9.6" fill="#4f4943" stroke="#4f4943" stroke-width="0.2" textLength="37.0" lengthAdjust="spacingAndGlyphs">BURUNDI</text>
<text x="325.0" y="264.8" font-size="9.6" fill="#4f4943" stroke="#4f4943" stroke-width="0.2" textLength="55.0" lengthAdjust="spacingAndGlyphs">DEMOCRATIC</text>
<text x="308.7" y="274.1" font-size="9.6" fill="#4f4943" stroke="#4f4943" stroke-width="0.2" textLength="90.8" lengthAdjust="spacingAndGlyphs">REPUBLIC OF CONGO</text>
<text x="412.7" y="272.4" font-size="9.6" fill="#4f4943" stroke="#4f4943" stroke-width="0.2" textLength="41.0" lengthAdjust="spacingAndGlyphs">TANZANIA</text>
<text x="283.6" y="323.1" font-size="9.6" fill="#4f4943" stroke="#4f4943" stroke-width="0.2" textLength="35.9" lengthAdjust="spacingAndGlyphs">ANGOLA</text>
<text x="343.0" y="342.3" font-size="9.6" fill="#4f4943" stroke="#4f4943" stroke-width="0.2" textLength="32.1" lengthAdjust="spacingAndGlyphs">ZAMBIA</text>
<text x="393.8" y="314.3" font-size="9.6" fill="#4f4943" stroke="#4f4943" stroke-width="0.2" textLength="32.9" lengthAdjust="spacingAndGlyphs">MALAWI</text>
<text x="345.6" y="377.4" font-size="9.6" fill="#4f4943" stroke="#4f4943" stroke-width="0.2" textLength="45.9" lengthAdjust="spacingAndGlyphs">ZIMBABWE</text>
<text x="291.7" y="388.7" font-size="9.6" fill="#4f4943" stroke="#4f4943" stroke-width="0.2" textLength="34.6" lengthAdjust="spacingAndGlyphs">NAMIBIA</text>
<text x="327.4" y="395.1" font-size="9.6" fill="#4f4943" stroke="#4f4943" stroke-width="0.2" textLength="48.1" lengthAdjust="spacingAndGlyphs">BOTSWANA</text>
<text x="417.9" y="395.4" font-size="9.6" fill="#4f4943" stroke="#4f4943" stroke-width="0.2" textLength="56.2" lengthAdjust="spacingAndGlyphs">MOZAMBIQUE</text>
<text x="490.8" y="379.3" font-size="9.6" fill="#4f4943" stroke="#4f4943" stroke-width="0.2" textLength="60.4" lengthAdjust="spacingAndGlyphs">MADAGASCAR</text>
<text x="542.6" y="367.4" font-size="9.6" fill="#4f4943" stroke="#4f4943" stroke-width="0.2" textLength="46.2" lengthAdjust="spacingAndGlyphs">MAURITIUS</text>
<text x="340.9" y="442.8" font-size="9.6" fill="#4f4943" stroke="#4f4943" stroke-width="0.2" textLength="40.5" lengthAdjust="spacingAndGlyphs">LESOTHO</text>
<text x="385.3" y="441.3" font-size="9.6" fill="#4f4943" stroke="#4f4943" stroke-width="0.2" textLength="49.4" lengthAdjust="spacingAndGlyphs">SWAZILAND</text>
<text x="310.4" y="457.6" font-size="9.6" fill="#4f4943" stroke="#4f4943" stroke-width="0.2" textLength="30.5" lengthAdjust="spacingAndGlyphs">SOUTH</text>
<text x="310.4" y="467.3" font-size="9.6" fill="#4f4943" stroke="#4f4943" stroke-width="0.2" textLength="31.4" lengthAdjust="spacingAndGlyphs">AFRICA</text>
<text x="183.6" y="36.5" font-size="9.2" fill="#55524f" textLength="50.7" lengthAdjust="spacingAndGlyphs" font-style="italic">Tropic of Cancer</text>
<text x="29.9" y="217.0" font-size="9" fill="#55524f" textLength="25.1" lengthAdjust="spacingAndGlyphs" font-style="italic">Equator</text>
<text x="525.4" y="410.4" font-size="9" fill="#55524f" textLength="58.6" lengthAdjust="spacingAndGlyphs" font-style="italic">Tropic of Capricorn</text>
<text x="399.0" y="254.8" font-size="9.6" fill="#2a3623" textLength="54.2" lengthAdjust="spacingAndGlyphs" font-weight="bold">(7 private FZ)</text>
<text x="478.9" y="263.5" font-size="9.2" fill="#1e1e1e" stroke="#1e1e1e" stroke-width="0.2" textLength="57.7" lengthAdjust="spacingAndGlyphs">(19 private FZ)</text>
<text x="13.7" y="258.7" font-size="10.6" fill="#3f3b38" stroke="#3f3b38" stroke-width="0.1" textLength="152.3" lengthAdjust="spacingAndGlyphs">Geographically designated free zones (FZ)</text>
<text x="44.7" y="271.9" font-size="10.6" fill="#3f3b38" stroke="#3f3b38" stroke-width="0.1" textLength="39.0" lengthAdjust="spacingAndGlyphs">Free zones</text>
<text x="44.7" y="284.3" font-size="10.6" fill="#3f3b38" stroke="#3f3b38" stroke-width="0.1" textLength="69.2" lengthAdjust="spacingAndGlyphs">Planned free zones</text>
<text x="44.7" y="296.8" font-size="10.6" fill="#3f3b38" stroke="#3f3b38" stroke-width="0.1" textLength="36.1" lengthAdjust="spacingAndGlyphs">Free ports</text>
<text x="44.7" y="309.1" font-size="10.6" fill="#3f3b38" stroke="#3f3b38" stroke-width="0.1" textLength="104.8" lengthAdjust="spacingAndGlyphs">Free zones specialised in ICT</text>
<text x="44.7" y="321.5" font-size="10.6" fill="#3f3b38" stroke="#3f3b38" stroke-width="0.1" textLength="64.0" lengthAdjust="spacingAndGlyphs">Private free zones</text>
<text x="13.7" y="338.6" font-size="10.6" fill="#3f3b38" stroke="#3f3b38" stroke-width="0.1" textLength="130.5" lengthAdjust="spacingAndGlyphs">Other situation related to free zones</text>
<text x="44.7" y="353.6" font-size="10.6" fill="#3f3b38" stroke="#3f3b38" stroke-width="0.1" textLength="108.5" lengthAdjust="spacingAndGlyphs">Text of law under examination</text>
<text x="44.7" y="366.2" font-size="10.6" fill="#3f3b38" stroke="#3f3b38" stroke-width="0.1" textLength="104.0" lengthAdjust="spacingAndGlyphs">Text of law only promulgated</text>
<text x="44.7" y="382.0" font-size="10.6" fill="#3f3b38" stroke="#3f3b38" stroke-width="0.1" textLength="114.8" lengthAdjust="spacingAndGlyphs">Area only eligible for free points</text>
<text x="44.7" y="402.3" font-size="10.6" fill="#3f3b38" stroke="#3f3b38" stroke-width="0.1" textLength="100.0" lengthAdjust="spacingAndGlyphs">No legislation on free zones</text>
<text x="13.7" y="420.4" font-size="10.6" fill="#3f3b38" stroke="#3f3b38" stroke-width="0.1" textLength="150.8" lengthAdjust="spacingAndGlyphs">Development Corridors in Southern Africa</text>
<text x="44.7" y="434.1" font-size="10.6" fill="#3f3b38" stroke="#3f3b38" stroke-width="0.1" textLength="83.5" lengthAdjust="spacingAndGlyphs">Corridors of Walvis Bay</text>
<text x="44.7" y="446.0" font-size="10.6" fill="#3f3b38" stroke="#3f3b38" stroke-width="0.1" textLength="91.6" lengthAdjust="spacingAndGlyphs">Corridors of Mozambique</text>
<text x="44.7" y="458.6" font-size="10.6" fill="#3f3b38" stroke="#3f3b38" stroke-width="0.1" textLength="91.6" lengthAdjust="spacingAndGlyphs">Corridors  of South Africa</text>
<rect x="27.6" y="264.1" width="7.6" height="7.6" fill="#dc2a35" stroke="#6e1a1c" stroke-width="1"/>
<rect x="27.6" y="276.8" width="7.6" height="7.6" fill="#fbf3f2" stroke="#d9707c" stroke-width="1"/>
<rect x="27.6" y="289.5" width="7.6" height="7.6" fill="#5e9fd2" stroke="#1f4d6e" stroke-width="1"/>
<rect x="27.6" y="302.0" width="7.6" height="7.6" fill="#8c4fa5" stroke="#3d1d4a" stroke-width="1"/>
<rect x="27.6" y="314.4" width="7.6" height="7.6" fill="#3c9a32" stroke="#1d4a18" stroke-width="1"/>
<rect x="23.8" y="345.8" width="15.9" height="7.8" fill="url(#lh1)" stroke="#a8a193" stroke-width="1.1"/>
<rect x="23.8" y="358.4" width="15.9" height="7.8" fill="url(#lh2)" stroke="#a8a193" stroke-width="1.1"/>
<rect x="23.8" y="374.7" width="15.9" height="7.8" fill="#fdeeb0" stroke="#a8a193" stroke-width="1.1"/>
<rect x="23.8" y="393.6" width="15.9" height="7.8" fill="#ede5d9" stroke="#a8a193" stroke-width="1.1"/>
<line x1="24.2" y1="430.3" x2="39.5" y2="430.3" stroke="#b9bda9" stroke-width="1"/>
<line x1="24.2" y1="442.1" x2="39.5" y2="442.1" stroke="#8faaa0" stroke-width="1"/>
<line x1="24.2" y1="454.0" x2="39.5" y2="454.0" stroke="#e6b77c" stroke-width="1"/>
<text x="7.3" y="491" font-size="16" font-weight="bold" fill="#111" textLength="84" lengthAdjust="spacingAndGlyphs">2011 Datas</text>
<line x1="496.3" y1="469.3" x2="562.4" y2="469.3" stroke="#111" stroke-width="1.1"/>
<text x="513.5" y="468.0" font-size="6.8" fill="#333" textLength="30.8" lengthAdjust="spacingAndGlyphs">1 000 km</text>
<text x="574.6" y="456.8" font-size="7" fill="#222" stroke="#222" stroke-width="0.15" textLength="4.6" lengthAdjust="spacingAndGlyphs">N</text>
<line x1="576.6" y1="461" x2="576.6" y2="469" stroke="#666" stroke-width="1.1"/>
<polygon points="576.6,458.5 574.6,462.3 578.6,462.3" fill="#111"/>
</svg></body></html>
